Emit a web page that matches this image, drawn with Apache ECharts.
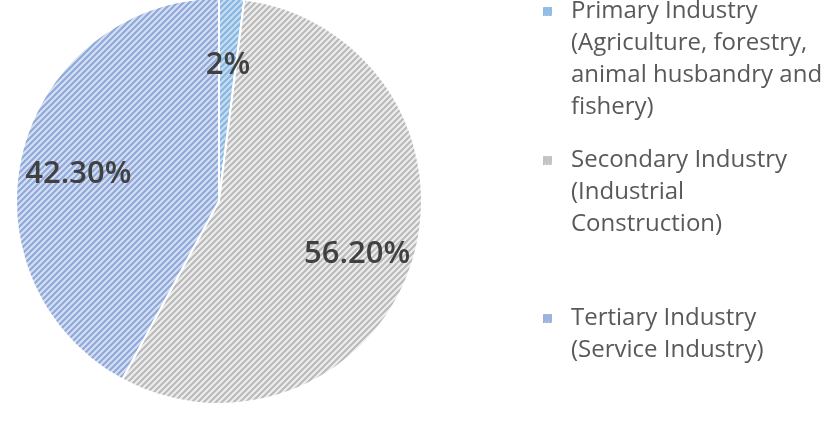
<!DOCTYPE html>
<html>
<head>
<meta charset="utf-8">
<script src="https://cdn.jsdelivr.net/npm/echarts@6/dist/echarts.min.js"></script>
<style>html,body{margin:0;padding:0;background:#fff}#c{width:825px;height:421px}</style>
</head>
<body>
<div id="c"></div>
<script>
// ---- data ----
var categories = [
  'Primary Industry\n(Agriculture, forestry,\nanimal husbandry and\nfishery)',
  'Secondary Industry\n(Industrial\nConstruction)',
  'Tertiary Industry\n(Service Industry)'
];
var values = [2, 56.2, 42.3];
var labelTexts = ['2%', '56.20%', '42.30%'];

// ---- styles ----
var stripeColors = [['#c6ddf2', '#86b6e0'], ['#ededed', '#b9b9b9'], ['#d5dff2', '#8ea8da']];
function hatch(bg, fg) {
  var s = 6, cv = document.createElement('canvas');
  cv.width = s; cv.height = s;
  var g = cv.getContext('2d');
  g.fillStyle = bg; g.fillRect(0, 0, s, s);
  g.strokeStyle = fg; g.lineWidth = 2;
  g.beginPath();
  g.moveTo(-1, s + 1); g.lineTo(s + 1, -1);
  g.moveTo(-1, 1); g.lineTo(1, -1);
  g.moveTo(s - 1, s + 1); g.lineTo(s + 1, s - 1);
  g.stroke();
  return cv;
}
var patternCanvases = stripeColors.map(function (c) { return hatch(c[0], c[1]); });
var iconCanvases = stripeColors.map(function (c) {
  var cv = document.createElement('canvas');
  cv.width = 9; cv.height = 9;
  var g = cv.getContext('2d');
  g.fillStyle = c[0]; g.fillRect(0, 0, 9, 9);
  g.strokeStyle = c[1]; g.lineWidth = 1.6;
  g.beginPath();
  for (var k = -9; k < 18; k += 3) { g.moveTo(k, 9); g.lineTo(k + 9, 0); }
  g.stroke();
  return cv;
});

var chart = echarts.init(document.getElementById('c'), null, { renderer: 'canvas' });
var R = 203, CX = 219, CY = 201;
var L = 32;
var firstLineCenters = [11, 160, 318];

var legends = categories.map(function (name, i) {
  var rich = {
    i: { width: 9, height: 9, verticalAlign: 'middle', backgroundColor: { image: iconCanvases[i] } },
    i2: { width: 9, height: 9 },
    s: { width: 19 },
    t: { fontFamily: 'Open Sans', fontSize: 24, color: '#595959', lineHeight: L, verticalAlign: 'middle' }
  };
  return {
    orient: 'vertical',
    left: 542,
    top: firstLineCenters[i] - L / 2,
    padding: 0,
    itemWidth: 0,
    itemHeight: 1,
    itemGap: 0,
    icon: 'rect',
    itemStyle: { opacity: 0 },
    selectedMode: false,
    data: [name],
    formatter: function (nm) {
      return nm.split('\n').map(function (line, k) {
        return (k === 0 ? '{i|}{s|}' : '{i2|}{s|}') + '{t|' + line + '}';
      }).join('\n');
    },
    textStyle: {
      lineHeight: L,
      padding: [0, 0, 0, -5],
      rich: rich
    }
  };
});

var pieData = categories.map(function (name, i) {
  return { name: name, value: values[i], itemStyle: { color: { image: patternCanvases[i], repeat: 'repeat' } } };
});
var labelData = categories.map(function (name, i) {
  return { name: name, value: values[i], label: { formatter: labelTexts[i] } };
});

chart.setOption({
  animation: false,
  legend: legends,
  series: [
    {
      type: 'pie',
      center: [CX, CY],
      radius: [0, R],
      startAngle: 90,
      clockwise: true,
      label: { show: false },
      labelLine: { show: false },
      itemStyle: { borderColor: '#ffffff', borderWidth: 2 },
      emphasis: { disabled: true },
      data: pieData
    },
    {
      type: 'pie',
      center: [CX, CY + 9],
      radius: [R * 0.4, R],
      startAngle: 90,
      clockwise: true,
      silent: true,
      legendHoverLink: false,
      itemStyle: { color: 'rgba(0,0,0,0)' },
      label: {
        show: true,
        position: 'inside',
        fontFamily: 'Open Sans',
        fontSize: 31,
        fontWeight: 600,
        color: '#404040'
      },
      labelLine: { show: false },
      emphasis: { disabled: true },
      data: labelData
    }
  ]
});
</script>
</body>
</html>
